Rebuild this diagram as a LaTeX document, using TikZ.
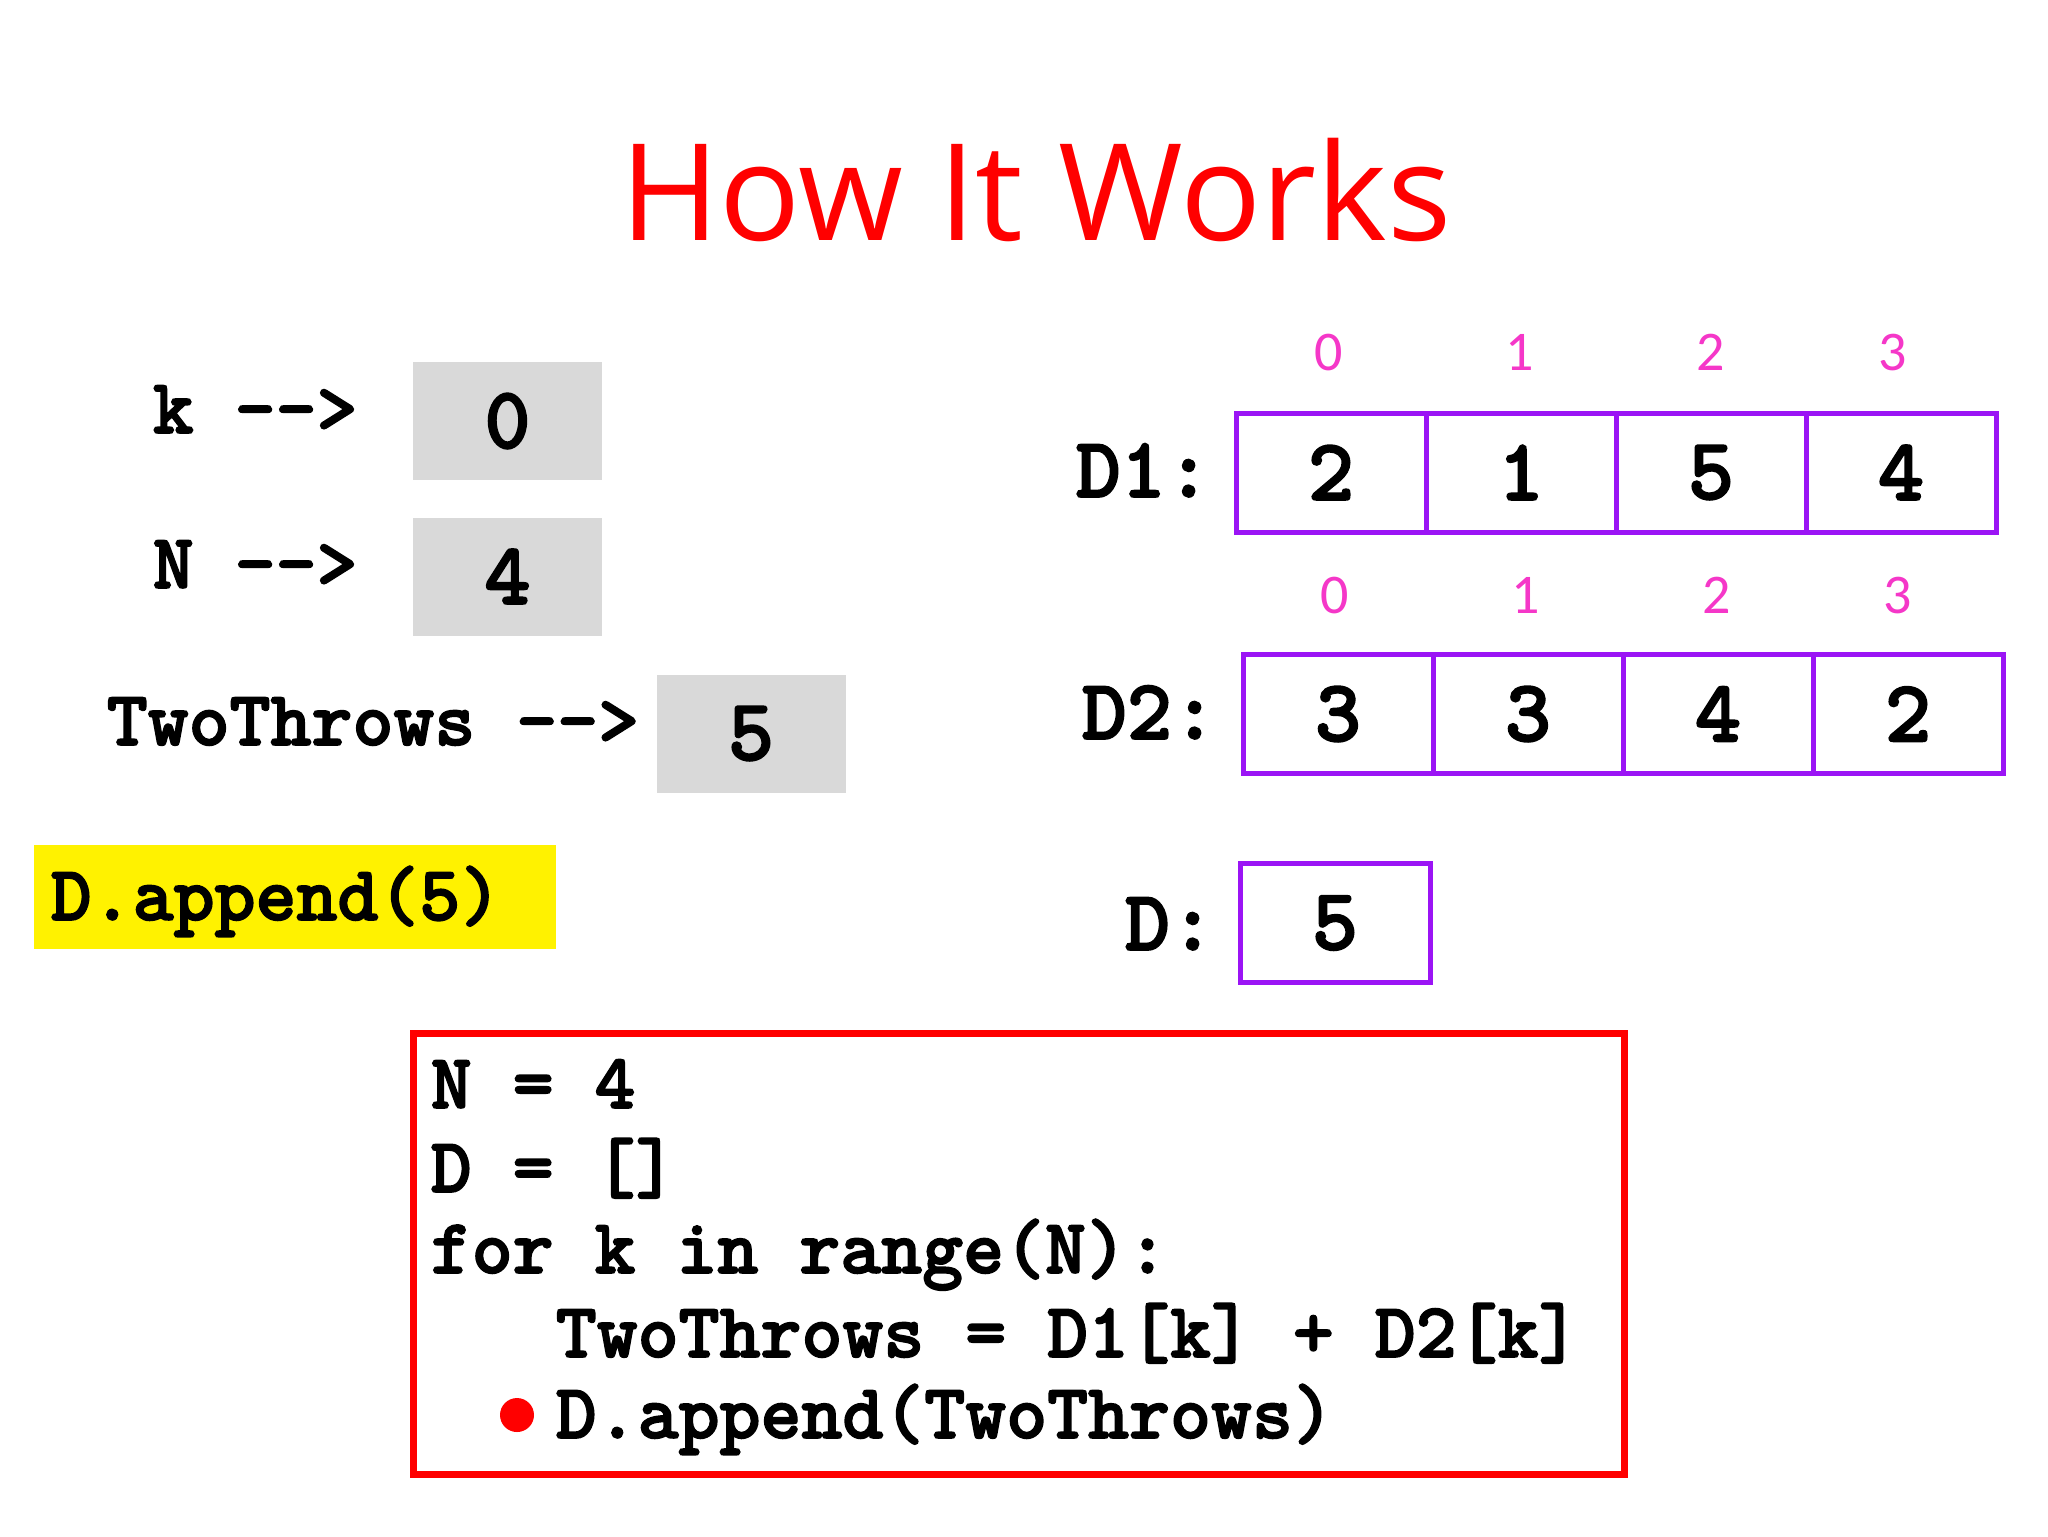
\documentclass[tikz,border=0pt]{standalone}
\usepackage{fontspec}
\setmonofont{lmmonolt10-bold}[Extension=.otf, BoldFont=lmmonolt10-bold, BoldFeatures={FakeBold=2}]
\newfontfamily\idxfont{Carlito}
\newfontfamily\titlefont{Open Sans}
\definecolor{boxpurple}{RGB}{155,20,245}
\definecolor{idxpink}{RGB}{245,55,200}
\definecolor{boxgray}{RGB}{217,217,217}
\definecolor{slidered}{RGB}{255,0,0}
\begin{document}
\begin{tikzpicture}[x=0.25pt,y=-0.25pt,
  mono/.style={font=\ttfamily\bfseries\fontsize{19.5pt}{22pt}\selectfont, inner sep=0pt, anchor=base west},
  biglbl/.style={font=\ttfamily\bfseries\fontsize{21.5pt}{24pt}\selectfont, inner sep=0pt, anchor=base east},
  graybox/.style={fill=boxgray, minimum width=47.25pt, minimum height=29.5pt, inner sep=0pt, font=\ttfamily\bfseries\fontsize{22pt}{26pt}\selectfont},
  cell/.style={draw=boxpurple, line width=1.25pt, minimum width=47.5pt, minimum height=29.75pt, inner sep=0pt, font=\ttfamily\bfseries\fontsize{22pt}{26pt}\selectfont},
  idx/.style={font=\idxfont\fontsize{14pt}{16pt}\selectfont, text=idxpink, inner sep=0pt},
  titlestyle/.style={text=slidered, inner sep=0pt},
]
\useasboundingbox[fill=white] (0,0) rectangle (2048,1536);

% title
\node[titlestyle] (title) at (1036,190) {\resizebox{207.75pt}{!}{\titlefont\fontsize{34pt}{40pt}\selectfont How It Works}};

% variables
\node[mono] (klbl) at (152,433) {k -{}-{}>};
\node[graybox] (kbox) at (507.5,421) {0};
\node[mono] (nlbl) at (152,588) {N -{}-{}>};
\node[graybox] (nbox) at (507.5,576.5) {4};
\node[mono] (tlbl) at (106,745) {TwoThrows -{}-{}>};
\node[graybox] (tbox) at (751,733.5) {5};

% highlighted statement
\node[fill=yellow, minimum width=130.5pt, minimum height=26pt, inner sep=0pt] (ybox) at (295,897) {};
\node[mono] (yappend) at (50,920) {D.append(5)};

% D1
\node[biglbl] (d1lbl) at (1212,497) {D1:};
\node[cell] (d1a) at (1331,472.5) {2};
\node[cell] (d1b) at (1521,472.5) {1};
\node[cell] (d1c) at (1711,472.5) {5};
\node[cell] (d1d) at (1901,472.5) {4};
\node[idx] (i1a) at (1329,352) {0};
\node[idx] (i1b) at (1520,352) {1};
\node[idx] (i1c) at (1711,352) {2};
\node[idx] (i1d) at (1893,352) {3};

% D2
\node[biglbl] (d2lbl) at (1218,739) {D2:};
\node[cell] (d2a) at (1338,714) {3};
\node[cell] (d2b) at (1528,714) {3};
\node[cell] (d2c) at (1718,714) {4};
\node[cell] (d2d) at (1908,714) {2};
\node[idx] (i2a) at (1335,595) {0};
\node[idx] (i2b) at (1526,595) {1};
\node[idx] (i2c) at (1717,595) {2};
\node[idx] (i2d) at (1898,595) {3};

% D
\node[biglbl] (dlbl) at (1216,950) {D:};
\node[cell] (da) at (1335,923) {5};

% code box
\node[draw=slidered, line width=1.75pt, minimum width=302.75pt, minimum height=110.25pt, inner sep=0pt] (code) at (1018.5,1253.5) {};
\node[mono] (c1) at (430,1108) {N = 4};
\node[mono] (c2) at (430,1192) {D = []};
\node[mono] (c3) at (430,1273) {for k in range(N):};
\node[mono] (c4) at (555,1357) {TwoThrows = D1[k] + D2[k]};
\node[mono] (c5) at (555,1438) {D.append(TwoThrows)};
\node[circle, fill=slidered, minimum size=8.5pt, inner sep=0pt] (dot) at (517,1415) {};
\end{tikzpicture}
\end{document}
